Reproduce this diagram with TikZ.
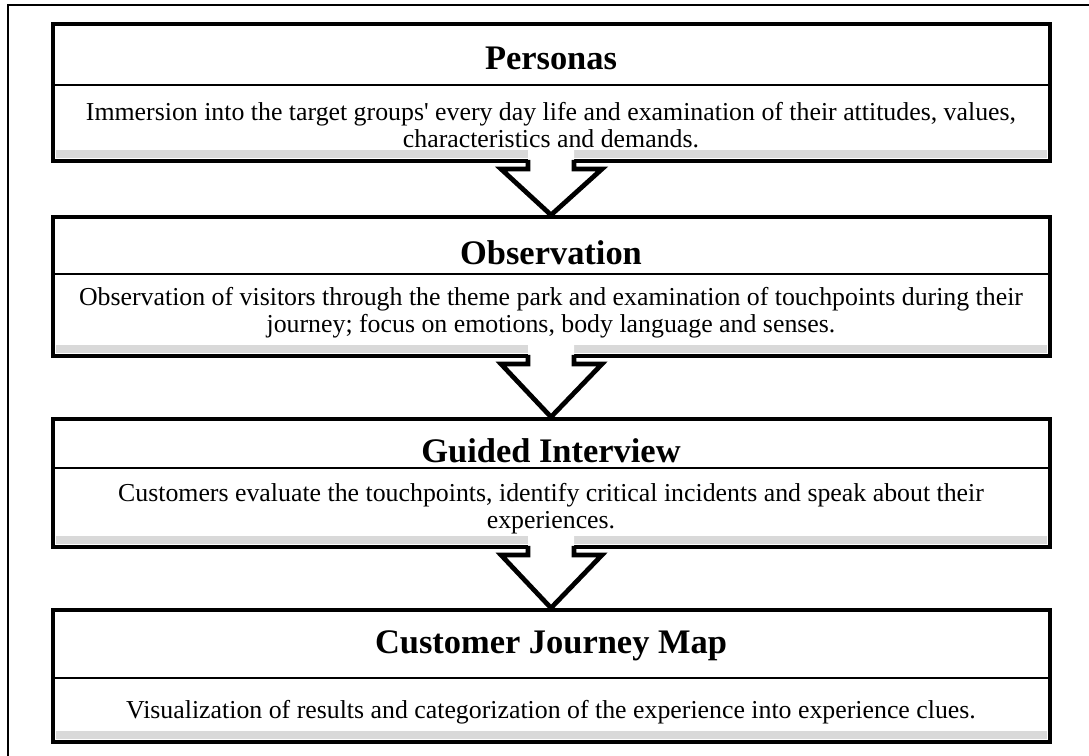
\documentclass[tikz,border=0pt]{standalone}
\usepackage{fontspec}
\setmainfont{Liberation Serif}
\usetikzlibrary{calc}
\newcommand{\plainapos}{{\addfontfeature{Ligatures=TeXOff}'}}
\begin{document}
\begin{tikzpicture}[x=0.02cm,y=-0.02cm,
  frameline/.style={line width=1.6pt},
  boxline/.style={line width=2.7pt, fill=white},
  divline/.style={line width=1.7pt},
  strip/.style={fill=black!15},
  arrowfill/.style={fill=white},
  arrowline/.style={line width=2.7pt, line join=miter},
  titletext/.style={font=\bfseries\fontsize{19.6}{22}\selectfont, inner sep=0pt},
  desctext/.style={font=\fontsize{14.7}{15.2}\selectfont, align=center, inner sep=0pt}]
\useasboundingbox (0,0) rectangle (1089,756);
\draw[frameline] (8,756) -- (8,5) -- (1089,5);
\foreach \n/\t/\d/\b in {1/24/85/161, 2/217/274/356, 3/419/468/547, 4/610/678/742} {
  \draw[boxline] (53,\t) rectangle (1050,\b);
  \fill[strip] (56,\b-11) rectangle (1047,\b-3);
  \draw[divline] (53,\d) -- (1050,\d);
  \coordinate (top\n) at (551,\t);
  \coordinate (bot\n) at (551,\b);
}
\node[titletext] (t1) at (551,58) {Personas};
\node[desctext] (d1) at (551,125) {Immersion into the target groups\plainapos{} every day life and examination of their attitudes, values,\\characteristics and demands.};
\node[titletext] (t2) at (551,253) {Observation};
\node[desctext] (d2) at (551,313) {Observation of visitors through the theme park and examination of touchpoints during their\\journey; focus on emotions, body language and senses.};
\node[titletext] (t3) at (551,451) {Guided Interview};
\node[desctext] (d3) at (551,509) {Customers evaluate the touchpoints, identify critical incidents and speak about their\\experiences.};
\node[titletext] (t4) at (551,646) {Customer Journey Map};
\node[desctext] (d4) at (551,712) {Visualization of results and categorization of the experience into experience clues.};
\foreach \a/\b in {1/2, 2/3, 3/4} {
  \path[arrowfill] ($(bot\a)+(-23,-12)$) -- ($(bot\a)+(-23,8)$) -- ($(bot\a)+(-50,8)$) -- ($(top\b)+(0,-2)$) -- ($(bot\a)+(51,8)$) -- ($(bot\a)+(23,8)$) -- ($(bot\a)+(23,-12)$) -- cycle;
  \draw[arrowline] ($(bot\a)+(-23,-1)$) -- ($(bot\a)+(-23,8)$) -- ($(bot\a)+(-50,8)$) -- ($(top\b)+(0,-2)$) -- ($(bot\a)+(51,8)$) -- ($(bot\a)+(23,8)$) -- ($(bot\a)+(23,-1)$);
}
\end{tikzpicture}
\end{document}
